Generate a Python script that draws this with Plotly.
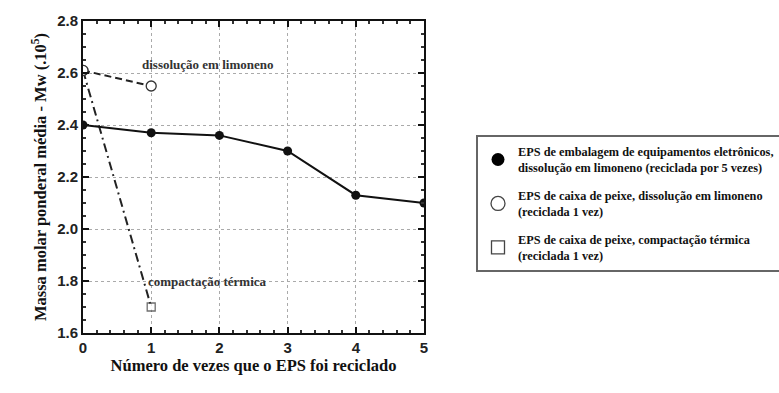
import plotly.graph_objects as go

# Recycling cycles and weight-average molar mass (x10^5)
ciclos_eletronicos = [0, 1, 2, 3, 4, 5]
mw_eletronicos = [2.40, 2.37, 2.36, 2.30, 2.13, 2.10]

ciclos_peixe_limoneno = [0, 1]
mw_peixe_limoneno = [2.61, 2.55]

ciclos_peixe_compactacao = [0, 1]
mw_peixe_compactacao = [2.61, 1.70]

nomes_legenda = [
    "EPS de embalagem de equipamentos eletrônicos,<br>dissolução em limoneno (reciclada por 5 vezes)",
    "EPS de caixa de peixe, dissolução em limoneno<br>(reciclada 1 vez)",
    "EPS de caixa de peixe, compactação térmica<br>(reciclada 1 vez)",
]

x_ticks = [0, 1, 2, 3, 4, 5]
y_ticks = [1.6, 1.8, 2.0, 2.2, 2.4, 2.6, 2.8]

SERIF = "Liberation Serif, Times New Roman, serif"
SANS = "Liberation Sans, Arial, sans-serif"

fig = go.Figure()

# Data lines
fig.add_trace(go.Scatter(
    x=ciclos_peixe_compactacao, y=mw_peixe_compactacao, mode="lines+markers",
    line=dict(color="#222", width=2, dash="9px,4px,2px,4px"),
    marker=dict(symbol=["circle", "square"], size=[10, 8], color="white",
                line=dict(color="#333", width=1.3)),
    showlegend=False,
))
fig.add_trace(go.Scatter(
    x=ciclos_peixe_limoneno, y=mw_peixe_limoneno, mode="lines+markers",
    line=dict(color="#222", width=2, dash="7px,4px"),
    marker=dict(symbol="circle", size=10, color="white",
                line=dict(color="#333", width=1.3)),
    showlegend=False,
))
fig.add_trace(go.Scatter(
    x=ciclos_eletronicos, y=mw_eletronicos, mode="lines+markers",
    line=dict(color="#111", width=2),
    marker=dict(symbol="circle", size=9, color="#111"),
    showlegend=False,
))

# Legend entries (markers only)
simbolos = [
    dict(symbol="circle", size=13, color="black"),
    dict(symbol="circle", size=14, color="white", line=dict(color="#444", width=1.3)),
    dict(symbol="square", size=13, color="white", line=dict(color="#444", width=1.3)),
]
for i, (nome, mk) in enumerate(zip(nomes_legenda, simbolos)):
    fig.add_trace(go.Scatter(
        x=[None], y=[None], mode="markers", marker=mk, name=nome,
        legendgroup=f"g{i}", showlegend=True,
    ))

# Curve labels
fig.add_annotation(x=1.83, y=2.632, text="dissolução em limoneno", showarrow=False,
                   font=dict(family=SERIF, size=13, color="#333", weight="bold"))
fig.add_annotation(x=1.82, y=1.80, text="compactação térmica", showarrow=False,
                   font=dict(family=SERIF, size=13, color="#333", weight="bold"))

eixo = dict(
    showline=True, linecolor="#111", linewidth=2, mirror="ticks",
    ticks="inside", ticklen=6, tickwidth=1.5, tickcolor="#111",
    showgrid=True, gridcolor="#aaa", griddash="dot", gridwidth=1,
    zeroline=False,
    tickfont=dict(family=SANS, size=15, color="#222", weight="bold"),
)

fig.update_xaxes(
    **eixo, range=[0, 5], tickvals=x_ticks, ticktext=[str(v) for v in x_ticks],
    minor=dict(dtick=0.2, ticks="inside", ticklen=3, tickcolor="#333", showgrid=False),
    title=dict(text="Número de vezes que o EPS foi reciclado",
               font=dict(family=SERIF, size=16.5, color="#111", weight="bold"), standoff=4),
)
fig.update_yaxes(
    **eixo, range=[1.6, 2.8], tickvals=y_ticks, ticktext=[f"{v:.1f}" for v in y_ticks],
    minor=dict(dtick=0.05, ticks="inside", ticklen=3, tickcolor="#333", showgrid=False),
    title=dict(text="Massa molar ponderal média - Mw (.10<sup>5</sup>)",
               font=dict(family=SERIF, size=16.5, color="#111", weight="bold"), standoff=6),
)

fig.update_layout(
    width=779, height=393,
    margin=dict(l=83, r=355, t=12, b=60),
    paper_bgcolor="white", plot_bgcolor="white",
    legend=dict(
        xref="container", yref="container", x=476 / 779, y=1 - 135 / 393,
        xanchor="left", yanchor="top",
        bordercolor="#666", borderwidth=2, bgcolor="white",
        font=dict(family=SERIF, size=12.3, color="#111", weight="bold"),
        tracegroupgap=9, itemwidth=30,
    ),
)

fig.write_html("out.html")
